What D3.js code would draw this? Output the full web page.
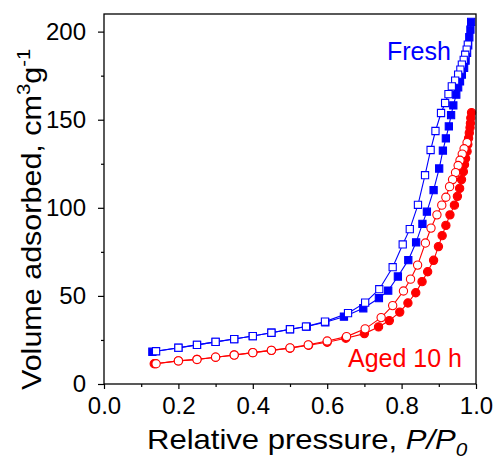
<!DOCTYPE html>
<html>
<head>
<meta charset="utf-8">
<script src="https://cdn.jsdelivr.net/npm/d3@7"></script>
<style>
  html, body { margin: 0; padding: 0; background: #fff; }
  svg { display: block; font-family: "Liberation Sans", Arial, sans-serif; }
</style>
</head>
<body>
<svg id="chart" width="496" height="459"></svg>
<script>
// ---- data ----
// Fresh, adsorption branch (filled squares)
var freshAdsX = [0.13, 0.20, 0.25, 0.30, 0.35, 0.40, 0.45, 0.50, 0.545, 0.595, 0.645, 0.697, 0.739, 0.764, 0.79,
  0.818, 0.839, 0.856, 0.868, 0.886, 0.901, 0.911, 0.919, 0.927, 0.933, 0.939, 0.947, 0.952, 0.957, 0.962,
  0.968, 0.972, 0.976, 0.979, 0.982, 0.985, 0.987];
var freshAdsY = [18.3, 20.5, 22.2, 23.9, 25.5, 27.2, 29.1, 31.0, 32.6, 35.0, 38.2, 43.0, 48.7, 53.0, 61.0,
  70.3, 80.4, 90.9, 97.8, 110.0, 122.3, 132.5, 139.4, 146.2, 152.6, 158.1, 164.2, 168.4, 171.8, 175.6,
  179.4, 183.5, 187.9, 192.2, 196.8, 201.1, 205.5];
// Fresh, desorption branch (open squares)
var freshDesX = [0.978, 0.975, 0.971, 0.967, 0.962, 0.958, 0.952, 0.944, 0.935, 0.926, 0.917, 0.906, 0.891,
  0.878, 0.863, 0.844, 0.822, 0.803, 0.776, 0.740, 0.702, 0.656, 0.594, 0.543, 0.50, 0.45, 0.40, 0.35,
  0.30, 0.25, 0.20, 0.14];
var freshDesY = [192.6, 189.8, 186.9, 184.0, 181.3, 178.4, 175.6, 172.2, 168.9, 164.5, 159.5, 153.8, 143.6,
  132.8, 118.5, 101.7, 87.9, 79.2, 66.3, 53.8, 46.2, 40.2, 35.4, 32.6, 31.1, 29.1, 27.2, 25.5,
  23.9, 22.2, 20.6, 18.6];
// Aged 10 h, adsorption branch (filled circles)
var agedAdsX = [0.135, 0.20, 0.25, 0.30, 0.35, 0.40, 0.45, 0.50, 0.55, 0.60, 0.65, 0.70, 0.738, 0.767, 0.795,
  0.817, 0.838, 0.855, 0.870, 0.886, 0.899, 0.909, 0.919, 0.930, 0.942, 0.950, 0.956, 0.961, 0.966,
  0.969, 0.972, 0.976, 0.978, 0.980, 0.982, 0.984, 0.985, 0.986, 0.988];
var agedAdsY = [11.5, 13.1, 14.0, 15.2, 16.5, 17.8, 19.1, 20.3, 22.0, 23.7, 26.0, 28.6, 32.4, 36.0, 40.8,
  46.0, 51.8, 58.1, 63.7, 70.2, 78.0, 84.2, 90.0, 96.0, 101.5, 106.5, 111.0, 116.0, 120.5,
  124.5, 128.0, 132.0, 136.0, 139.5, 142.5, 145.5, 148.0, 151.0, 154.0];
// Aged 10 h, desorption branch (open circles)
var agedDesX = [0.976, 0.968, 0.963, 0.957, 0.952, 0.945, 0.937, 0.929, 0.919, 0.908, 0.895, 0.879, 0.864,
  0.843, 0.824, 0.805, 0.776, 0.745, 0.702, 0.652, 0.600, 0.549, 0.50, 0.45, 0.40, 0.35, 0.30, 0.25,
  0.20, 0.14];
var agedDesY = [137.0, 133.5, 130.5, 127.0, 124.0, 120.0, 116.0, 112.0, 106.0, 101.5, 96.0, 88.5, 80.0,
  67.5, 59.5, 52.8, 44.5, 37.7, 31.3, 26.9, 24.4, 22.2, 20.5, 19.1, 17.8, 16.4, 15.2, 13.9,
  13.1, 11.5];

var xTicks = [0.0, 0.2, 0.4, 0.6, 0.8, 1.0];
var xMinor = [0.1, 0.3, 0.5, 0.7, 0.9];
var yTicks = [0, 50, 100, 150, 200];
var yMinor = [25, 75, 125, 175];

// ---- chart ----
var svg = d3.select("#chart");
var blue = "#0000ff", red = "#ff0000";

var x = d3.scaleLinear().domain([0, 1]).range([104, 476]);
var y = d3.scaleLinear().domain([0, 210]).range([384, 14]);

function zip(xs, ys) {
  return xs.map(function(v, i) { return [v, ys[i]]; });
}

var line = d3.line()
  .x(function(d) { return x(d[0]); })
  .y(function(d) { return y(d[1]); });

function drawSeries(pts, color, shape, filled) {
  var g = svg.append("g");
  g.append("path")
    .datum(pts)
    .attr("d", line)
    .attr("fill", "none")
    .attr("stroke", color)
    .attr("stroke-width", 1.1);
  var sym = d3.symbol().type(shape === "square" ? d3.symbolSquare : d3.symbolCircle)
    .size(shape === "square" ? 52 : 54);
  g.selectAll("path.m")
    .data(pts)
    .enter().append("path")
    .attr("class", "m")
    .attr("d", sym)
    .attr("transform", function(d) { return "translate(" + x(d[0]) + "," + y(d[1]) + ")"; })
    .attr("fill", filled ? color : "#fff")
    .attr("stroke", color)
    .attr("stroke-width", 1.1);
}

drawSeries(zip(agedAdsX, agedAdsY), red, "circle", true);
drawSeries(zip(agedDesX, agedDesY), red, "circle", false);
drawSeries(zip(freshAdsX, freshAdsY), blue, "square", true);
drawSeries(zip(freshDesX, freshDesY), blue, "square", false);

// axes
svg.append("g")
  .attr("transform", "translate(0,384)")
  .call(d3.axisBottom(x).tickValues(xTicks).tickSize(5).tickPadding(8)
    .tickFormat(d3.format(".1f")));
svg.append("g")
  .attr("transform", "translate(0,384)")
  .call(d3.axisBottom(x).tickValues(xMinor).tickSize(3).tickFormat(""));
svg.append("g")
  .attr("transform", "translate(104,0)")
  .call(d3.axisLeft(y).tickValues(yTicks).tickSize(6).tickPadding(12));
svg.append("g")
  .attr("transform", "translate(104,0)")
  .call(d3.axisLeft(y).tickValues(yMinor).tickSize(3).tickFormat(""));

svg.selectAll(".domain").remove();
svg.selectAll(".tick line").attr("stroke", "#000").attr("stroke-width", 1.2);
svg.selectAll(".tick text")
  .attr("fill", "#000")
  .style("font-size", "24px")
  .style("font-family", "Liberation Sans, Arial, sans-serif");

// frame
svg.append("rect")
  .attr("x", 104).attr("y", 14)
  .attr("width", 372).attr("height", 370)
  .attr("fill", "none")
  .attr("stroke", "#000")
  .attr("stroke-width", 1.3);

// axis titles (the original lettering is a little wider than Liberation Sans)
var xt = svg.append("text")
  .attr("transform", "translate(147,449) scale(1.15,1)")
  .style("font-size", "27px");
xt.append("tspan").text("Relative pressure, ");
xt.append("tspan").style("font-style", "italic").text("P/P");
xt.append("tspan").style("font-style", "italic").style("font-size", "18px").attr("dy", 7).text("0");

var yt = svg.append("text")
  .attr("transform", "translate(41,390) rotate(-90) scale(1.13,1)")
  .style("font-size", "27px");
yt.append("tspan").text("Volume adsorbed, cm");
yt.append("tspan").style("font-size", "18px").attr("dy", -11).text("3");
yt.append("tspan").attr("dy", 11).text("g");
yt.append("tspan").style("font-size", "18px").attr("dy", -11).text("-1");

// series labels
svg.append("text")
  .attr("x", 387).attr("y", 60)
  .attr("fill", blue)
  .style("font-size", "25px")
  .text("Fresh");
svg.append("text")
  .attr("x", 348).attr("y", 367)
  .attr("fill", red)
  .style("font-size", "25px")
  .text("Aged 10 h");
</script>
</body>
</html>
